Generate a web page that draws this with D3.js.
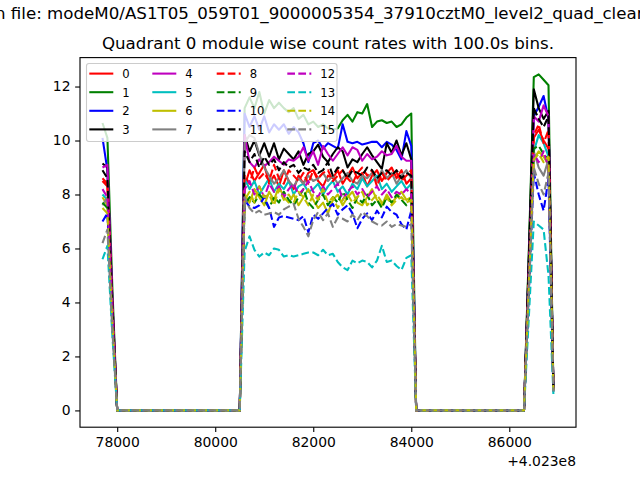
<!DOCTYPE html>
<html>
<head>
<meta charset="utf-8">
<script src="https://cdn.jsdelivr.net/npm/d3@7"></script>
<style>
body { margin: 0; background: #fff; }
text { font-family: "DejaVu Sans", sans-serif; }
</style>
</head>
<body>
<svg id="chart" width="640" height="480"></svg>
<script>
// time grid: 100 s bins, offset +4.023e8
const binStart = 77700;
const binWidth = 100;
const nBins = 93;

const labels = ["0","1","2","3","4","5","6","7","8","9","10","11","12","13","14","15"];

// 77700, 77800, 77900
const leftBins = [
    [8.5, 8.3, 3.8], [10.65, 10.1, 4.6], [10.1, 8.9, 4.1], [9.15, 9.0, 4.1],
    [9.0, 9.1, 4.2], [8.0, 7.8, 3.6], [7.9, 7.6, 3.5], [7.6, 7.9, 3.6],
    [8.6, 8.4, 3.9], [7.7, 7.5, 3.4], [7.0, 7.3, 3.3], [8.9, 8.6, 3.9],
    [8.2, 7.9, 3.6], [5.6, 6.1, 2.8], [7.5, 7.3, 3.3], [6.2, 6.7, 3.0]
];
const gapA = 26; // empty bins 78000 .. 80500
// 80600 .. 84000
const midBins = [
    [8.3,8.9,8.5,8.8,9.1,8.4,8.7,8.3,8.9,8.5,8.2,8.7,8.4,8.8,8.9,8.5,8.3,8.7,8.6,8.9,8.4,8.7,9.0,8.6,8.8,8.3,8.7,8.9,8.5,8.8,9.0,8.6,8.9,8.4,8.6],
    [11.2,11.6,11.2,11.8,11.0,11.5,11.2,11.4,11.2,11.05,11.2,10.8,10.95,10.6,10.7,10.5,10.6,10.45,10.4,10.45,10.75,10.95,10.7,11.05,11.0,11.35,10.5,10.7,10.75,10.65,10.7,10.5,10.6,10.85,11.0],
    [11.0,10.5,10.9,10.4,10.9,10.3,10.6,10.4,10.6,10.25,10.5,10.3,9.9,9.2,9.9,10.0,9.7,9.9,9.8,9.7,10.6,9.95,9.9,9.95,9.85,9.9,9.95,9.95,9.75,9.95,9.85,9.65,9.3,10.35,9.8],
    [10.2,9.6,10.0,9.45,9.9,9.4,9.9,9.3,9.7,9.5,9.3,9.6,9.1,9.5,9.6,9.85,9.4,9.2,9.5,9.75,9.6,9.0,9.3,9.2,9.5,9.75,9.45,9.2,8.95,9.9,9.55,10.0,9.45,9.9,9.3],
    [10.2,9.2,9.0,9.3,9.05,9.2,9.4,9.25,9.1,9.3,9.25,9.4,9.75,9.25,9.6,9.1,9.8,9.5,9.25,9.5,9.75,9.45,9.75,9.65,9.25,9.5,9.3,9.4,9.6,9.45,9.5,9.8,9.4,9.25,9.25],
    [8.6,8.2,8.5,8.0,8.3,8.6,8.1,8.4,8.2,8.5,8.0,8.3,8.4,8.1,8.2,8.4,8.0,8.3,8.5,8.1,8.3,8.0,8.4,8.2,8.6,8.3,8.5,8.7,8.2,8.4,8.1,8.3,8.5,8.2,8.4],
    [8.0,7.7,8.2,7.9,7.6,8.1,7.8,8.3,7.9,7.7,8.0,7.6,7.9,8.2,7.8,7.5,7.7,7.3,7.8,8.0,7.6,7.9,8.1,7.7,7.6,7.9,8.2,7.8,7.6,8.0,7.7,7.9,8.1,7.8,7.9],
    [9.9,10.2,10.1,9.5,9.0,8.7,8.4,8.6,8.9,8.5,8.3,8.6,8.4,8.7,8.5,8.6,8.8,8.5,8.7,8.4,8.6,8.8,8.5,8.4,8.7,8.6,8.8,8.5,8.9,8.6,8.8,8.4,8.7,8.9,8.6],
    [8.7,8.4,9.0,8.6,8.8,8.5,9.1,8.6,8.4,8.9,8.7,8.5,8.8,8.4,8.9,8.6,8.8,8.9,8.5,8.7,8.9,8.6,8.4,8.8,9.0,8.7,8.9,8.3,8.8,8.5,8.7,8.8,8.5,8.7,8.9],
    [7.6,7.9,7.7,8.0,7.8,7.5,7.9,7.7,8.1,7.8,7.6,7.9,8.2,7.7,7.5,7.8,8.0,7.6,7.9,7.7,8.1,7.8,7.5,7.9,7.7,8.0,7.6,7.8,7.5,7.9,7.7,8.0,7.8,7.6,7.9],
    [7.8,7.55,7.5,7.6,7.9,7.5,6.8,7.15,7.2,7.15,7.1,7.05,7.2,6.6,7.25,7.1,7.3,7.5,7.65,7.25,7.45,7.6,7.3,6.75,7.1,7.3,7.05,7.4,7.15,7.55,7.35,7.25,6.9,6.7,7.4],
    [9.6,9.2,9.5,9.0,9.4,9.1,9.3,8.9,9.2,9.0,9.1,8.8,9.0,8.9,9.1,8.8,8.9,9.2,8.7,9.0,8.9,8.6,8.9,8.8,8.7,9.0,8.9,8.6,8.8,8.9,8.7,8.9,8.6,8.8,8.7],
    [8.2,8.5,8.0,8.3,7.9,8.4,8.1,8.3,7.9,8.2,8.4,8.0,8.2,8.5,8.1,7.9,8.3,8.0,8.2,8.4,7.8,8.1,8.3,8.0,8.2,7.9,8.1,8.3,8.0,8.2,7.9,8.1,8.0,8.2,8.0],
    [5.9,6.45,5.95,5.7,5.85,5.75,6.0,5.95,5.7,5.75,5.7,5.75,5.8,5.85,5.85,5.75,5.95,5.75,5.8,5.5,5.3,5.2,5.55,5.45,5.55,5.5,5.3,5.55,6.1,5.5,5.55,5.35,5.2,5.65,5.75],
    [7.8,8.1,7.7,8.3,7.9,8.0,7.6,8.2,7.8,8.0,7.7,8.1,7.9,7.6,8.0,7.8,8.2,7.7,7.9,7.5,7.8,8.0,7.7,7.9,8.1,7.6,7.8,8.0,7.7,7.9,7.6,7.8,7.9,7.7,7.8],
    [7.9,7.5,7.3,7.4,7.25,7.3,7.35,7.25,7.45,7.55,7.65,7.1,6.8,6.45,7.05,7.35,7.05,7.3,6.8,7.15,7.1,7.0,7.25,7.05,7.35,7.2,7.0,6.9,6.85,7.0,6.8,6.9,6.85,6.8,6.9]
];
const gapB = 23; // empty bins 84100 .. 86300
// 86400 .. 86900
const rightBins = [
    [5.0, 10.1, 10.4, 10.0, 9.7, 0.8], [6.0, 12.35, 12.45, 12.25, 12.05, 0.85],
    [5.5, 10.9, 11.25, 11.65, 10.8, 0.8], [5.8, 11.9, 11.2, 10.8, 11.1, 0.75],
    [5.4, 10.9, 10.7, 11.3, 10.9, 0.8], [4.8, 9.6, 10.2, 9.9, 9.4, 0.7],
    [4.7, 9.3, 9.6, 9.4, 9.1, 0.75], [4.8, 9.6, 9.0, 8.7, 9.3, 0.7],
    [5.1, 10.2, 10.6, 9.9, 10.4, 0.8], [4.9, 9.7, 9.8, 9.5, 9.3, 0.75],
    [4.4, 8.8, 8.0, 7.4, 8.6, 0.7], [5.6, 11.2, 10.8, 10.5, 10.9, 0.8],
    [4.8, 9.5, 9.2, 9.6, 9.0, 0.75], [3.5, 7.0, 6.85, 6.7, 5.0, 0.6],
    [4.7, 9.3, 9.5, 9.2, 9.4, 0.75], [4.5, 9.0, 8.4, 8.0, 8.8, 0.7]
];

const xTicks = [78000, 80000, 82000, 84000, 86000];
const yTicks = [0, 2, 4, 6, 8, 10, 12];

const colors = ["#ff0000", "#008000", "#0000ff", "#000000", "#bf00bf", "#00bfbf", "#bfbf00", "#808080"];

const times = d3.range(nBins).map(i => binStart + i * binWidth);
const series = labels.map((lab, i) => {
    let vals = leftBins[i]
        .concat(new Array(gapA).fill(0))
        .concat(midBins[i])
        .concat(new Array(gapB).fill(0))
        .concat(rightBins[i]);
    return { label: lab, color: colors[i % 8], dashed: i >= 8, values: vals };
});

const svg = d3.select("#chart");
const plotL = 80, plotR = 576, plotT = 57.6, plotB = 427.2;
const lw = 2.08;              // 1.5 pt line
const dash = "7.7,3.33";       // matplotlib '--' at 1.5 pt

let x = d3.scaleLinear().domain([77241, 87361]).range([plotL, plotR]);
let y = d3.scaleLinear().domain([-0.622, 13.072]).range([plotB, plotT]);

svg.append("rect").attr("width", 640).attr("height", 480).attr("fill", "#fff");

svg.append("defs").append("clipPath").attr("id", "plotclip")
    .append("rect").attr("x", plotL).attr("y", plotT)
    .attr("width", plotR - plotL).attr("height", plotB - plotT);

let line = d3.line()
    .x((d, i) => x(times[i]))
    .y(d => y(d));

let plot = svg.append("g").attr("clip-path", "url(#plotclip)");
plot.selectAll(".series")
    .data(series)
    .enter()
    .append("path")
    .attr("class", "series")
    .attr("d", d => line(d.values))
    .attr("fill", "none")
    .attr("stroke", d => d.color)
    .attr("stroke-width", lw)
    .attr("stroke-linejoin", "round")
    .attr("stroke-dasharray", d => d.dashed ? dash : null);

// axes
let xAxis = d3.axisBottom(x).tickValues(xTicks).tickSize(4.86).tickPadding(4.6).tickFormat(d3.format("d"));
let yAxis = d3.axisLeft(y).tickValues(yTicks).tickSize(4.86).tickPadding(4.6).tickFormat(d3.format("d"));

let gx = svg.append("g").attr("transform", `translate(0,${plotB})`).call(xAxis);
let gy = svg.append("g").attr("transform", `translate(${plotL},0)`).call(yAxis);
[gx, gy].forEach(g => {
    g.select(".domain").remove();
    g.selectAll(".tick line").attr("stroke", "#000").attr("stroke-width", 1.11);
    g.selectAll(".tick text").attr("fill", "#000").style("font-size", "13.9px")
        .style("font-family", "DejaVu Sans");
});

svg.append("rect")
    .attr("x", plotL).attr("y", plotT)
    .attr("width", plotR - plotL).attr("height", plotB - plotT)
    .attr("fill", "none").attr("stroke", "#000").attr("stroke-width", 1.11);

svg.append("text")
    .attr("x", plotR).attr("y", 466)
    .attr("text-anchor", "end")
    .style("font-size", "13.9px")
    .text("+4.023e8");

// titles
let sup = svg.append("text")
    .attr("y", 18.5)
    .style("font-size", "16.67px")
    .text("Data in file: modeM0/AS1T05_059T01_9000005354_37910cztM0_level2_quad_clean.evt");
let prefixW = sup.node().getSubStringLength(0, 6);
sup.attr("x", -prefixW - 5);

svg.append("text")
    .attr("x", (plotL + plotR) / 2).attr("y", 49)
    .attr("text-anchor", "middle")
    .style("font-size", "16.67px")
    .text("Quadrant 0 module wise count rates with 100.0s bins.");

// legend, 4 columns filled column by column
let lg = svg.append("g");
lg.append("rect")
    .attr("x", 86.5).attr("y", 63.5)
    .attr("width", 250.5).attr("height", 78)
    .attr("rx", 2.5)
    .attr("fill", "#fff").attr("fill-opacity", 0.8)
    .attr("stroke", "#cccccc").attr("stroke-width", 1.1);

const colX = [89.3, 152.3, 216.7, 287.3];
const rowY = [73.6, 92.2, 110.8, 129.4];

let items = lg.selectAll(".item")
    .data(series)
    .enter()
    .append("g")
    .attr("transform", (d, i) => `translate(${colX[Math.floor(i / 4)]},${rowY[i % 4]})`);

items.append("line")
    .attr("x1", 0).attr("x2", 24)
    .attr("stroke", d => d.color)
    .attr("stroke-width", lw)
    .attr("stroke-dasharray", d => d.dashed ? dash : null);

items.append("text")
    .attr("x", 33).attr("y", 4.3)
    .style("font-size", "11.6px")
    .text(d => d.label);
</script>
</body>
</html>
